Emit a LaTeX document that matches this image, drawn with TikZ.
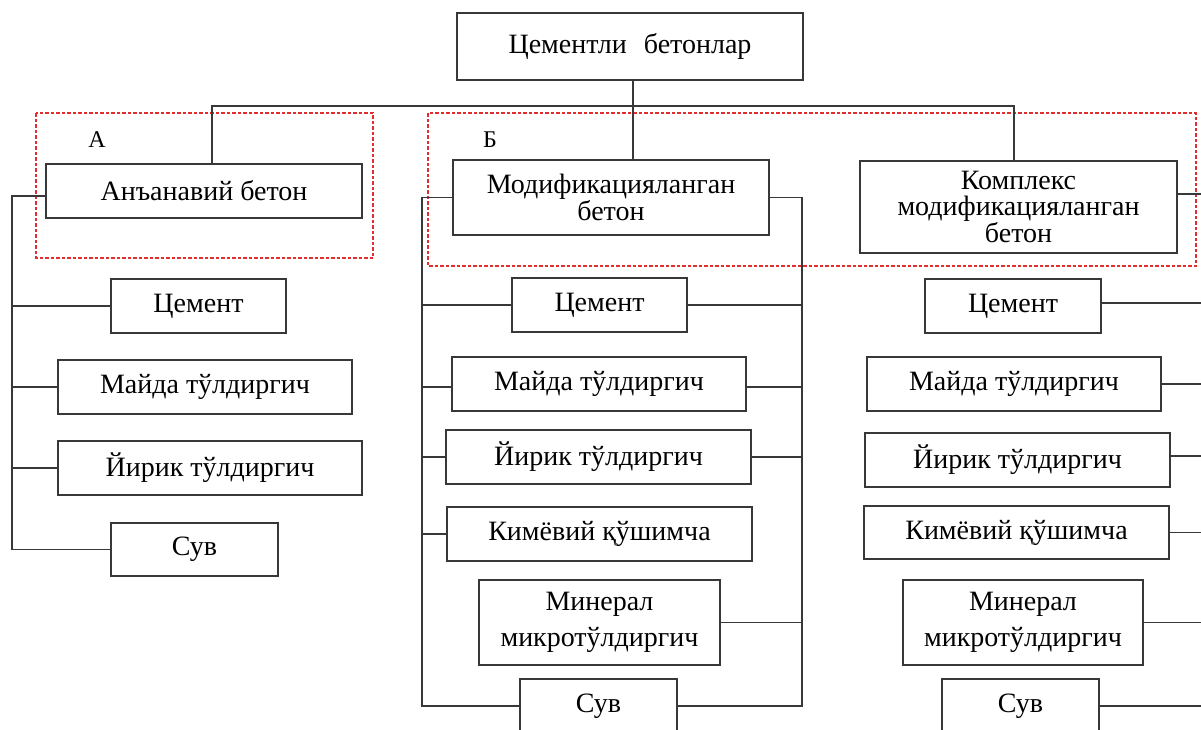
\documentclass[tikz,border=0pt]{standalone}
\usepackage{fontspec}
\setmainfont{Liberation Serif}
\definecolor{grpred}{RGB}{225,45,45}
\begin{document}
\begin{tikzpicture}[x=1pt,y=-1pt,
  box/.style={draw=black!78, line width=1.2pt, rectangle, inner sep=0pt, align=center,
    font=\fontsize{28}{25.5}\selectfont},
  tallbox/.style={box, font=\fontsize{28}{36}\selectfont},
  link/.style={draw=black!78, line width=1.2pt},
  grp/.style={draw=grpred, line width=1.1pt, dash pattern=on 3.5pt off 2pt},
  grplabel/.style={font=\fontsize{24}{26}\selectfont, inner sep=0pt}]
\useasboundingbox (0,0) rectangle (1201,729);
\clip (0,0) rectangle (1201,729);
\fill[white] (0,0) rectangle (1201,729);

% group frames
\draw[grp] (36,113) rectangle (373,258);
\draw[grp] (428,113) rectangle (1196,266);
\node[grplabel] (lblA) at (97,140) {А};
\node[grplabel] (lblB) at (490,140) {Б};

% top
\node[box, minimum width=346pt, text height=40pt, text depth=27pt] (top) at (630,46.5) {Цементли\hspace{17pt}бетонлар};

% second level
\node[box, minimum width=316pt, minimum height=54pt] (tA) at (204,191) {Анъанавий бетон};
\node[box, minimum width=316pt, minimum height=75pt] (tB) at (611,197.5) {Модификацияланган\\бетон};
\node[box, minimum width=317pt, minimum height=92pt] (tC) at (1018.5,207) {Комплекс\\модификацияланган\\бетон};

% left column
\node[box, minimum width=175pt, minimum height=54pt] (a1) at (198.5,306) {Цемент};
\node[box, minimum width=294pt, minimum height=54pt] (a2) at (205,387) {Майда тўлдиргич};
\node[box, minimum width=304pt, minimum height=54pt] (a3) at (210,468) {Йирик тўлдиргич};
\node[box, minimum width=167pt, minimum height=53pt] (a4) at (194.5,549.5) {Сув};

% middle column
\node[box, minimum width=175pt, minimum height=54pt] (b1) at (599.5,305) {Цемент};
\node[box, minimum width=294pt, minimum height=54pt] (b2) at (599,384) {Майда тўлдиргич};
\node[box, minimum width=305pt, minimum height=54pt] (b3) at (598.5,457) {Йирик тўлдиргич};
\node[box, minimum width=305pt, minimum height=54pt] (b4) at (599.5,534) {Кимёвий қўшимча};
\node[tallbox, minimum width=241pt, minimum height=85pt] (b5) at (599.5,622.5) {Минерал\\микротўлдиргич};
\node[box, minimum width=157pt, minimum height=54pt] (b6) at (598.5,706) {Сув};

% right column
\node[box, minimum width=176pt, minimum height=54pt] (c1) at (1013,306) {Цемент};
\node[box, minimum width=294pt, minimum height=54pt] (c2) at (1014,384) {Майда тўлдиргич};
\node[box, minimum width=305pt, minimum height=54pt] (c3) at (1017.5,460) {Йирик тўлдиргич};
\node[box, minimum width=305pt, minimum height=53pt] (c4) at (1016.5,532.5) {Кимёвий қўшимча};
\node[tallbox, minimum width=240pt, minimum height=85pt] (c5) at (1023,622.5) {Минерал\\микротўлдиргич};
\node[box, minimum width=157pt, minimum height=54pt] (c6) at (1020.5,706) {Сув};

% junctions and buses
\coordinate (jT) at (633,106);
\coordinate (jA) at (212,106);
\coordinate (jC) at (1014,106);
\coordinate (busL) at (12,0);
\coordinate (busBL) at (422,0);
\coordinate (busBR) at (802,0);
\coordinate (busCR) at (1215,0);

% top tree
\draw[link] (jT |- top.south) -- (jT |- tB.north);
\draw[link] (jA |- tA.north) -- (jA) -- (jC) -- (jC |- tC.north);

% left column connectors
\coordinate (tAw) at ([yshift=-5pt]tA.west);
\draw[link] (tAw) -- (tAw -| busL) -- (a4.west -| busL) -- (a4.west);
\draw[link] (a1.west) -- (a1.west -| busL);
\draw[link] (a2.west) -- (a2.west -| busL);
\draw[link] (a3.west) -- (a3.west -| busL);

% middle column connectors
\draw[link] (tB.west) -- (tB.west -| busBL) -- (b6.west -| busBL) -- (b6.west);
\draw[link] (tB.east) -- (tB.east -| busBR) -- (b6.east -| busBR) -- (b6.east);
\coordinate (b2w) at ([yshift=-3pt]b2.west);
\coordinate (b2e) at ([yshift=-3pt]b2.east);
\draw[link] (b1.west) -- (b1.west -| busBL);
\draw[link] (b2w) -- (b2w -| busBL);
\draw[link] (b3.west) -- (b3.west -| busBL);
\draw[link] (b4.west) -- (b4.west -| busBL);
\draw[link] (b1.east) -- (b1.east -| busBR);
\draw[link] (b2e) -- (b2e -| busBR);
\draw[link] (b3.east) -- (b3.east -| busBR);
\draw[link] (b5.east) -- (b5.east -| busBR);

% right column connectors
\coordinate (tCe) at ([yshift=13pt]tC.east);
\coordinate (c1e) at ([yshift=3pt]c1.east);
\coordinate (c3e) at ([yshift=4pt]c3.east);
\draw[link] (tCe) -- (tCe -| busCR);
\draw[link] (c1e) -- (c1e -| busCR);
\draw[link] (c2.east) -- (c2.east -| busCR);
\draw[link] (c3e) -- (c3e -| busCR);
\draw[link] (c4.east) -- (c4.east -| busCR);
\draw[link] (c5.east) -- (c5.east -| busCR);
\draw[link] (c6.east) -- (c6.east -| busCR);
\end{tikzpicture}
\end{document}
